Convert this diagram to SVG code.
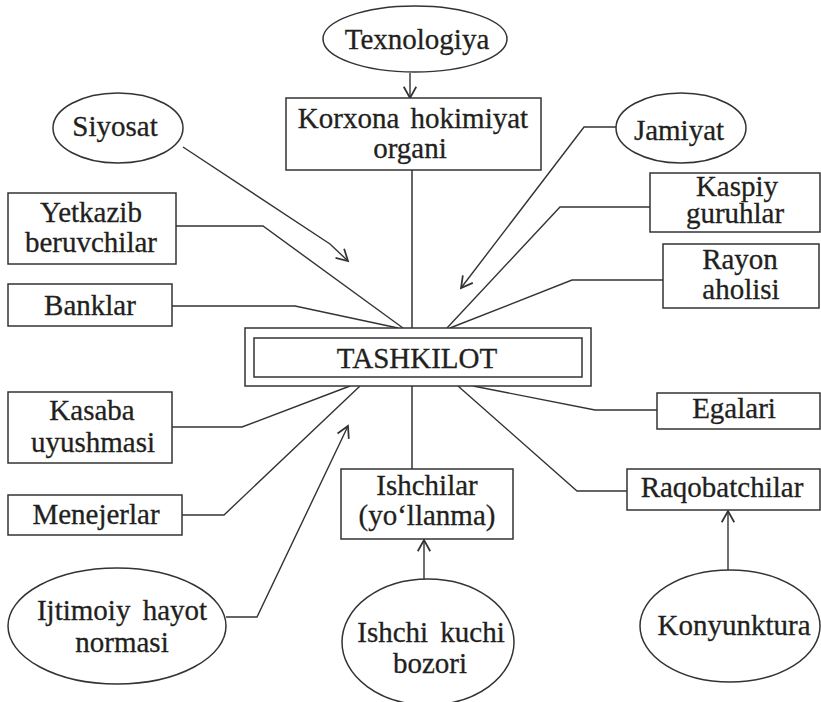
<svg xmlns="http://www.w3.org/2000/svg" width="821" height="702" viewBox="0 0 821 702">
  <style>
    .shape { fill: #ffffff; stroke: #333333; stroke-width: 1.5; }
    .link { fill: none; stroke: #333333; stroke-width: 1.4; }
    .stem { fill: none; stroke: #555555; stroke-width: 1.8; }
    text { font-family: "Liberation Serif", "Times New Roman", serif; font-size: 29px; fill: #231f20; stroke: #231f20; stroke-width: 0.3; text-anchor: middle; }
  </style>
  <defs>
    <marker id="open-arrow" markerUnits="userSpaceOnUse" markerWidth="20" markerHeight="20" viewBox="-12 -8 14 16" refX="0" refY="0" orient="auto">
      <path d="M -9 -5 L 0 0 L -9 5" fill="none" stroke="#333333" stroke-width="1.4"/>
    </marker>
  </defs>
  <rect width="821" height="702" fill="#ffffff"/>

  <!-- connectors -->
  <g id="connectors">
    <line class="link" x1="410" y1="73" x2="410" y2="98" marker-end="url(#open-arrow)"/>
    <line class="stem" x1="412" y1="170" x2="412" y2="328"/>
    <polyline class="link" points="183,147 330,244 348,261" marker-end="url(#open-arrow)"/>
    <polyline class="link" points="176,226 263,226 403,328"/>
    <polyline class="link" points="172,306 295,306 398,328"/>
    <polyline class="link" points="616,127 584,127 461,288" marker-end="url(#open-arrow)"/>
    <polyline class="link" points="650,207 560,207 447,328"/>
    <polyline class="link" points="663,280 572,280 450,328"/>
    <polyline class="link" points="172,427 242,427 350,386"/>
    <polyline class="link" points="182,515 224,515 360,386"/>
    <polyline class="link" points="226,617 257,617 348,426" marker-end="url(#open-arrow)"/>
    <line class="stem" x1="412" y1="386" x2="412" y2="469"/>
    <line class="link" x1="424" y1="579" x2="424" y2="540" marker-end="url(#open-arrow)"/>
    <polyline class="link" points="657,410 595,410 473,386"/>
    <polyline class="link" points="627,491 577,491 458,386"/>
    <line class="link" x1="728" y1="570" x2="728" y2="511" marker-end="url(#open-arrow)"/>
  </g>

  <g id="texnologiya">
    <ellipse class="shape" cx="415" cy="39" rx="92" ry="33"/>
    <text x="417" y="49">Texnologiya</text>
  </g>

  <g id="korxona">
    <rect class="shape" x="286" y="98" width="255" height="72"/>
    <text x="413" y="128" word-spacing="4">Korxona hokimiyat</text>
    <text x="410" y="158">organi</text>
  </g>

  <g id="siyosat">
    <ellipse class="shape" cx="118" cy="128" rx="65" ry="35"/>
    <text x="115" y="136">Siyosat</text>
  </g>

  <g id="yetkazib">
    <rect class="shape" x="8" y="193" width="168" height="71"/>
    <text x="91" y="222">Yetkazib</text>
    <text x="91" y="252">beruvchilar</text>
  </g>

  <g id="banklar">
    <rect class="shape" x="8" y="284" width="164" height="42"/>
    <text x="90" y="315">Banklar</text>
  </g>

  <g id="jamiyat">
    <ellipse class="shape" cx="681" cy="128" rx="65" ry="35"/>
    <text x="679" y="140">Jamiyat</text>
  </g>

  <g id="kaspiy">
    <rect class="shape" x="650" y="173" width="170" height="59"/>
    <text x="737" y="196">Kaspiy</text>
    <text x="735" y="223">guruhlar</text>
  </g>

  <g id="rayon">
    <rect class="shape" x="663" y="244" width="156" height="64"/>
    <text x="740" y="269">Rayon</text>
    <text x="741" y="299">aholisi</text>
  </g>

  <g id="tashkilot">
    <rect class="shape" x="245" y="328" width="346" height="58"/>
    <rect class="shape" x="254" y="338" width="328" height="39"/>
    <text x="417" y="368">TASHKILOT</text>
  </g>

  <g id="kasaba">
    <rect class="shape" x="8" y="392" width="164" height="71"/>
    <text x="92" y="420">Kasaba</text>
    <text x="93" y="452">uyushmasi</text>
  </g>

  <g id="menejerlar">
    <rect class="shape" x="8" y="495" width="174" height="40"/>
    <text x="96" y="524">Menejerlar</text>
  </g>

  <g id="ijtimoiy">
    <ellipse class="shape" cx="117" cy="626" rx="109" ry="58"/>
    <text x="122" y="620" word-spacing="5">Ijtimoiy hayot</text>
    <text x="122" y="652">normasi</text>
  </g>

  <g id="egalari">
    <rect class="shape" x="657" y="393" width="163" height="36"/>
    <text x="734" y="418">Egalari</text>
  </g>

  <g id="raqobatchilar">
    <rect class="shape" x="627" y="469" width="193" height="41"/>
    <text x="722" y="497">Raqobatchilar</text>
  </g>

  <g id="konyunktura">
    <ellipse class="shape" cx="730" cy="626" rx="90" ry="56"/>
    <text x="734" y="635">Konyunktura</text>
  </g>

  <g id="ishchilar">
    <rect class="shape" x="341" y="469" width="172" height="70"/>
    <text x="427" y="495">Ishchilar</text>
    <text x="427" y="525">(yo‘llanma)</text>
  </g>

  <g id="ishchi-kuchi">
    <ellipse class="shape" cx="428" cy="642" rx="86" ry="63"/>
    <text x="431" y="642" word-spacing="5">Ishchi kuchi</text>
    <text x="430" y="673">bozori</text>
  </g>
</svg>
